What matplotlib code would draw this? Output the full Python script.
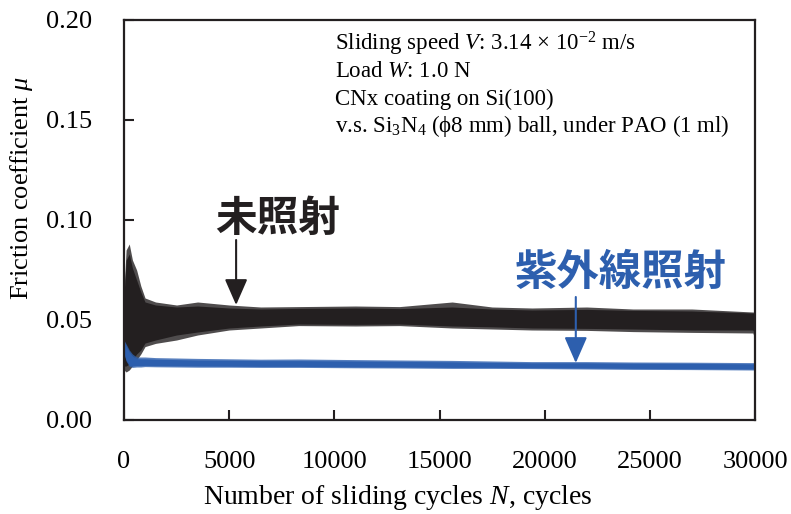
import numpy as np
import matplotlib
matplotlib.use('Agg')
import matplotlib.pyplot as plt

plt.rcParams['font.family'] = ['Liberation Serif', 'DejaVu Serif']
plt.rcParams['mathtext.fontset'] = 'custom'
plt.rcParams['mathtext.rm'] = 'Liberation Serif'
plt.rcParams['mathtext.it'] = 'Liberation Serif:italic'

cycles = [0, 100, 250, 400, 600, 800, 1000, 1500, 2500, 3500, 5000, 6500,
          8300, 11000, 13100, 15600, 17500, 19400, 22000, 24200, 27000, 29900, 30000]

# untreated (未照射): outer spikes and dense core
black_upper = [0.065, 0.085, 0.088, 0.080, 0.075, 0.067, 0.061, 0.059, 0.0575, 0.059, 0.0575, 0.0565,
               0.0567, 0.057, 0.0567, 0.059, 0.0565, 0.056, 0.0565, 0.0555, 0.0555, 0.054, 0.054]
black_lower = [0.025, 0.024, 0.025, 0.027, 0.030, 0.033, 0.0367, 0.0383, 0.040, 0.0425, 0.045, 0.046,
               0.0472, 0.047, 0.0472, 0.046, 0.0455, 0.045, 0.0448, 0.0442, 0.0438, 0.0435, 0.040]
black_core_hi = [0.062, 0.080, 0.083, 0.076, 0.070, 0.064, 0.059, 0.0575, 0.0565, 0.057, 0.056, 0.0555,
                 0.0558, 0.056, 0.0557, 0.0565, 0.0555, 0.055, 0.0553, 0.0548, 0.0545, 0.0535, 0.0535]
black_core_lo = [0.027, 0.027, 0.028, 0.030, 0.033, 0.035, 0.0385, 0.040, 0.0425, 0.044, 0.046, 0.047,
                 0.048, 0.0478, 0.048, 0.047, 0.0466, 0.046, 0.0458, 0.0455, 0.045, 0.045, 0.043]

# UV irradiated (紫外線照射)
blue_upper = [0.040, 0.038, 0.035, 0.033, 0.0315, 0.0315, 0.0315, 0.0312, 0.031, 0.0308, 0.0306, 0.0304,
              0.0305, 0.0302, 0.030, 0.0298, 0.0295, 0.0292, 0.0292, 0.029, 0.0289, 0.0287, 0.0287]
blue_lower = [0.033, 0.0295, 0.0268, 0.0263, 0.0265, 0.0265, 0.0267, 0.0266, 0.0265, 0.0264, 0.0264, 0.0263,
              0.0263, 0.0261, 0.026, 0.0258, 0.0258, 0.0257, 0.0255, 0.0253, 0.0252, 0.025, 0.025]
blue_core_hi = [0.0395, 0.037, 0.034, 0.032, 0.0307, 0.0306, 0.0306, 0.0304, 0.0302, 0.03, 0.0299, 0.0297,
                0.0297, 0.0295, 0.0293, 0.0291, 0.0288, 0.0286, 0.0286, 0.0284, 0.0283, 0.0281, 0.0281]
blue_core_lo = [0.0335, 0.030, 0.0275, 0.027, 0.0272, 0.0272, 0.0273, 0.0272, 0.0271, 0.027, 0.0269, 0.0268,
                0.0268, 0.0266, 0.0265, 0.0263, 0.0263, 0.0262, 0.026, 0.0258, 0.0257, 0.0255, 0.0255]

xticks = [0, 5000, 10000, 15000, 20000, 25000, 30000]
yticks = [0.00, 0.05, 0.10, 0.15, 0.20]

info_lines = [
    r'Sliding speed $V$: 3.14 $\times$ 10$^{\mathrm{-2}}$ m/s',
    r'Load $W$: 1.0 N',
    'CNx coating on Si(100)',
    r'v.s. Si$_{3}$N$_{4}$ (ϕ8 mm) ball, under PAO (1 ml)',
]

BLACK = '#231f20'
BLUE = '#2d5fae'
W, H = 791, 514

fig = plt.figure(figsize=(W / 100, H / 100), dpi=100)
ax = fig.add_axes([124 / W, 1 - 420 / H, 631 / W, 400 / H])

ax.fill_between(cycles, black_lower, black_upper, color=BLACK, alpha=0.8, lw=0)
ax.fill_between(cycles, black_core_lo, black_core_hi, color=BLACK, lw=0)
ax.fill_between(cycles, blue_lower, blue_upper, color=BLUE, alpha=0.8, lw=0)
ax.fill_between(cycles, blue_core_lo, blue_core_hi, color=BLUE, lw=0)

ax.set_xlim(0, 30000)
ax.set_ylim(0, 0.20)
ax.set_xticks(xticks)
ax.set_yticks(yticks)
ax.set_yticklabels([f'{v:.2f}' for v in yticks])
ax.tick_params(axis='both', direction='in', length=7, width=1.5, labelsize=19, color=BLACK)
ax.tick_params(axis='x', pad=22)
ax.tick_params(axis='y', pad=23)
for s in ax.spines.values():
    s.set_linewidth(1.6)
    s.set_color(BLACK)

fig.text(22 / W, 1 - 188 / H, r'Friction coefficient $\mu$', rotation=90,
         ha='center', va='center', fontsize=19)
fig.text(398 / W, 1 - 504 / H, r'Number of sliding cycles $N$, cycles',
         ha='center', va='baseline', fontsize=20)

for i, line in enumerate(info_lines):
    fig.text(335 / W, 1 - (50 + 27.4 * i) / H, line, ha='left', va='baseline', fontsize=16.5)

jp = ['Noto Sans CJK JP', 'DejaVu Sans']
fig.text(278 / W, 1 - 219 / H, '未照射', family=jp, fontweight='bold', fontsize=30,
         color=BLACK, ha='center', va='center')
fig.text(621 / W, 1 - 273 / H, '紫外線照射', family=jp, fontweight='bold', fontsize=30.5,
         color=BLUE, ha='center', va='center')

ax.annotate('', xy=(5330, 0.0575), xytext=(5330, 0.090),
            arrowprops=dict(arrowstyle='-|>,head_length=0.8,head_width=0.35', lw=1.5,
                            color=BLACK, shrinkA=0, shrinkB=0, mutation_scale=20))
ax.annotate('', xy=(21480, 0.0285), xytext=(21480, 0.0615),
            arrowprops=dict(arrowstyle='-|>,head_length=0.8,head_width=0.35', lw=1.5,
                            color=BLUE, shrinkA=0, shrinkB=0, mutation_scale=20))

fig.savefig('out.png', dpi=100)
